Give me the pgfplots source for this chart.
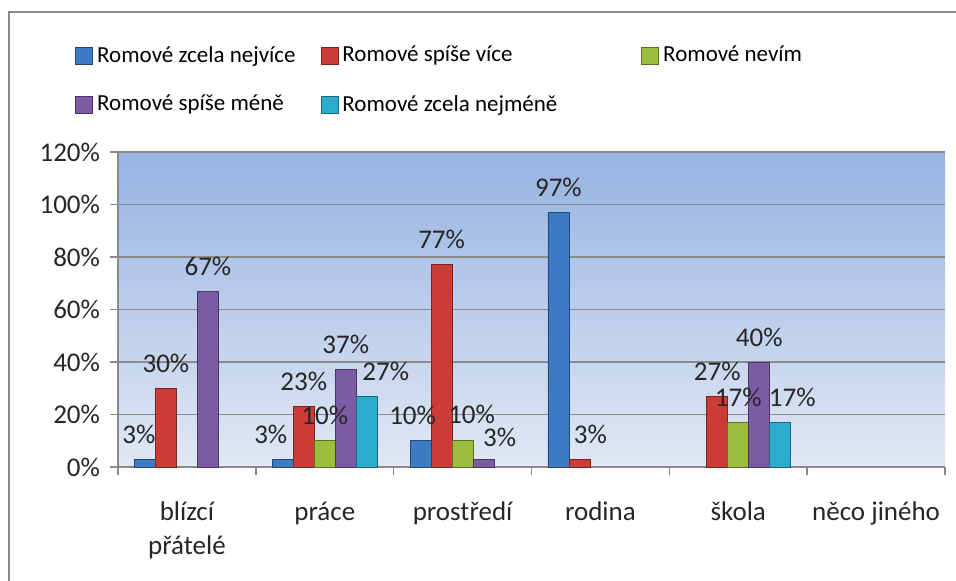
\documentclass[border=0pt]{standalone}
\usepackage{fontspec}
\setmainfont{Carlito}
\usepackage{pgfplots}
\usepackage{pgfplotstable}
\pgfplotsset{compat=1.18}
\definecolor{cBlue}{RGB}{60,122,196}
\definecolor{cRed}{RGB}{204,60,54}
\definecolor{cGreen}{RGB}{154,189,62}
\definecolor{cPurple}{RGB}{124,90,164}
\definecolor{cCyan}{RGB}{42,172,202}
\definecolor{bgTop}{RGB}{150,179,226}
\definecolor{bgBot}{RGB}{225,232,244}
\definecolor{gridc}{RGB}{138,138,138}

% x = category index, y = value in %, dx/dy = label shift (pt)
\pgfplotstableread{
x y dx dy
0 3 -3 12.5
1 3 -6 12.5
2 10 -4 12.5
3 97 0 12.5
}\tblue
\pgfplotstableread{
x y dx dy
0 30 0 12.5
1 23 0 12.5
2 77 0 12.5
3 3 5.5 12.5
4 27 0 12.5
}\tred
\pgfplotstableread{
x y dx dy
1 10 0 12.5
2 10 4.5 13
4 17 0 12.5
}\tgreen
\pgfplotstableread{
x y dx dy
0 67 0 12.5
1 37 0 12.5
2 3 8 11
4 40 0 12.5
}\tpurple
\pgfplotstableread{
x y dx dy
1 27 9.5 12.5
4 17 6 12.5
}\tcyan

\pgfplotsset{
  barsty/.style={fill=#1, draw=#1!60!black, line width=0.4pt},
}

\begin{document}
\begin{tikzpicture}
\useasboundingbox (0,0) rectangle (478pt,290.5pt);
\draw[gridc, line width=1pt] (4.5pt,-20pt) |- (520pt,284.5pt);
\begin{axis}[
  at={(59pt,57pt)}, anchor=south west,
  scale only axis, width=413.5pt, height=157.5pt,
  ybar=0pt, bar width=10.5pt,
  xmin=-0.5, xmax=5.5, ymin=0, ymax=120,
  axis x line=bottom, axis y line=left,
  axis line style={gridc, line width=0.8pt, -},
  axis background/.style={top color=bgTop, bottom color=bgBot},
  ytick={0,20,...,120},
  yticklabel={\pgfmathprintnumber{\tick}\%},
  yticklabel style={xshift=-1.5pt},
  ymajorgrids, major grid style={gridc, line width=0.8pt},
  xtick={0,...,5},
  xticklabels={{blízcí\\[2pt]přátelé},práce,prostředí,rodina,škola,něco jiného},
  minor xtick={-0.5,0.5,...,5.5},
  major x tick style={draw=none},
  minor x tick style={gridc, line width=0.8pt},
  y tick style={gridc, line width=0.8pt},
  tick align=outside,
  major tick length=4pt, minor tick length=4pt,
  xticklabel style={align=center, anchor=north, yshift=-10pt},
  ticklabel style={font=\fontsize{13.5}{15}\selectfont, text=black!85},
  /pgf/number format/assume math mode=true,
  clip=false,
  nodes near coords={\pgfmathprintnumber{\pgfplotspointmeta}\%},
  visualization depends on={\thisrow{dx} \as \dx},
  visualization depends on={\thisrow{dy} \as \dy},
  every node near coord/.append style={anchor=center, yshift=\dy, xshift=\dx,
      inner sep=0.5pt, font=\fontsize{13.5}{15}\selectfont, text=black!85},
  legend columns=3,
  legend style={draw=none, fill=none, at={(axis description cs:-0.052,1.35)}, anchor=north west,
     inner sep=0pt, row sep=11pt,
     font=\fontsize{11.5}{13}\selectfont,
     /tikz/column 2/.style={column sep=10.5pt},
     /tikz/column 4/.style={column sep=40pt}},
  legend cell align=left,
  legend image code/.code={\path[#1] (0pt,-4.25pt) rectangle (8.5pt,4.25pt);},
]
\addplot[barsty=cBlue] table[x=x,y=y] {\tblue};
\addplot[barsty=cRed] table[x=x,y=y] {\tred};
\addplot[barsty=cGreen] table[x=x,y=y] {\tgreen};
\addplot[barsty=cPurple] table[x=x,y=y] {\tpurple};
\addplot[barsty=cCyan] table[x=x,y=y] {\tcyan};
\legend{Romové zcela nejvíce, Romové spíše více, Romové nevím, Romové spíše méně, Romové zcela nejméně}
\end{axis}
\end{tikzpicture}
\end{document}
